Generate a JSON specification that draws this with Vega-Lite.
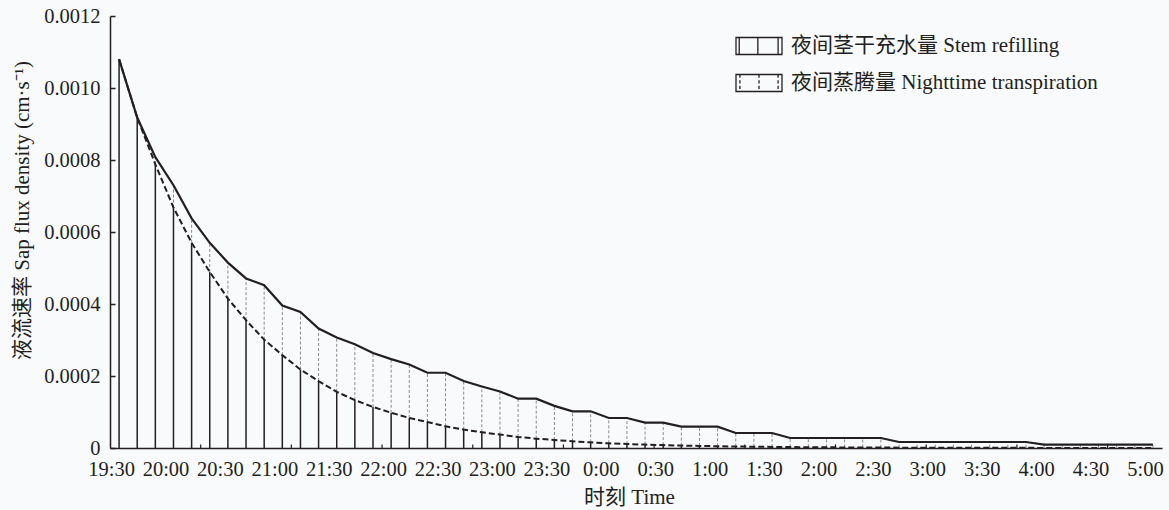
{
  "$schema": "https://vega.github.io/schema/vega-lite/v6.json",
  "width": 1052,
  "height": 432,
  "autosize": {"type": "none"},
  "padding": {"left": 110, "top": 16, "right": 7, "bottom": 62},
  "background": "#f9fafc",
  "config": {
    "view": {"stroke": null},
    "axis": {"labelFont": "Liberation Serif, Noto Sans CJK SC", "titleFont": "Liberation Serif, Noto Sans CJK SC", "labelColor": "#231f20", "titleColor": "#231f20", "titleFontWeight": "normal", "grid": false}
  },
  "data": {
    "values": [
      {"time": "19:30", "m": 0, "upper": 0.00108, "lower": 0.00108},
      {"time": "19:40", "m": 10, "upper": 0.000918, "lower": 0.000918},
      {"time": "19:50", "m": 20, "upper": 0.000808, "lower": 0.000788},
      {"time": "20:00", "m": 30, "upper": 0.00073, "lower": 0.000668},
      {"time": "20:10", "m": 40, "upper": 0.000638, "lower": 0.00057},
      {"time": "20:20", "m": 50, "upper": 0.00057, "lower": 0.000489},
      {"time": "20:30", "m": 60, "upper": 0.000515, "lower": 0.000415},
      {"time": "20:40", "m": 70, "upper": 0.000471, "lower": 0.000355},
      {"time": "20:50", "m": 80, "upper": 0.000452, "lower": 0.000301},
      {"time": "21:00", "m": 90, "upper": 0.000396, "lower": 0.000258},
      {"time": "21:10", "m": 100, "upper": 0.000378, "lower": 0.000218},
      {"time": "21:20", "m": 110, "upper": 0.000332, "lower": 0.000186},
      {"time": "21:30", "m": 120, "upper": 0.000307, "lower": 0.000156},
      {"time": "21:40", "m": 130, "upper": 0.000288, "lower": 0.000133},
      {"time": "21:50", "m": 140, "upper": 0.000264, "lower": 0.000114},
      {"time": "22:00", "m": 150, "upper": 0.000247, "lower": 0.000098},
      {"time": "22:10", "m": 160, "upper": 0.000232, "lower": 0.0000834},
      {"time": "22:20", "m": 170, "upper": 0.000209, "lower": 0.0000723},
      {"time": "22:30", "m": 180, "upper": 0.000209, "lower": 0.0000603},
      {"time": "22:40", "m": 190, "upper": 0.000186, "lower": 0.0000511},
      {"time": "22:50", "m": 200, "upper": 0.000171, "lower": 0.0000436},
      {"time": "23:00", "m": 210, "upper": 0.000157, "lower": 0.0000372},
      {"time": "23:10", "m": 220, "upper": 0.000137, "lower": 0.0000306},
      {"time": "23:20", "m": 230, "upper": 0.000137, "lower": 0.000026},
      {"time": "23:30", "m": 240, "upper": 0.000117, "lower": 0.0000222},
      {"time": "23:40", "m": 250, "upper": 0.000102, "lower": 0.0000186},
      {"time": "23:50", "m": 260, "upper": 0.000102, "lower": 0.0000158},
      {"time": "0:00", "m": 270, "upper": 0.0000834, "lower": 0.000013},
      {"time": "0:10", "m": 280, "upper": 0.0000834, "lower": 0.0000111},
      {"time": "0:20", "m": 290, "upper": 0.0000705, "lower": 0.0000094},
      {"time": "0:30", "m": 300, "upper": 0.0000705, "lower": 0.000008},
      {"time": "0:40", "m": 310, "upper": 0.0000594, "lower": 0.0000068},
      {"time": "0:50", "m": 320, "upper": 0.0000594, "lower": 0.0000058},
      {"time": "1:00", "m": 330, "upper": 0.0000594, "lower": 0.0000049},
      {"time": "1:10", "m": 340, "upper": 0.0000417, "lower": 0.0000042},
      {"time": "1:20", "m": 350, "upper": 0.0000417, "lower": 0.0000036},
      {"time": "1:30", "m": 360, "upper": 0.0000417, "lower": 0.000003},
      {"time": "1:40", "m": 370, "upper": 0.0000278, "lower": 0.0000026},
      {"time": "1:50", "m": 380, "upper": 0.0000278, "lower": 0.0000022},
      {"time": "2:00", "m": 390, "upper": 0.0000278, "lower": 0.0000019},
      {"time": "2:10", "m": 400, "upper": 0.0000278, "lower": 0.0000016},
      {"time": "2:20", "m": 410, "upper": 0.0000278, "lower": 0.0000014},
      {"time": "2:30", "m": 420, "upper": 0.0000278, "lower": 0.0000012},
      {"time": "2:40", "m": 430, "upper": 0.0000167, "lower": 0.000001},
      {"time": "2:50", "m": 440, "upper": 0.0000167, "lower": 0.0000009},
      {"time": "3:00", "m": 450, "upper": 0.0000167, "lower": 0.0000008},
      {"time": "3:10", "m": 460, "upper": 0.0000167, "lower": 0.0000007},
      {"time": "3:20", "m": 470, "upper": 0.0000167, "lower": 0.0000006},
      {"time": "3:30", "m": 480, "upper": 0.0000167, "lower": 0.0000005},
      {"time": "3:40", "m": 490, "upper": 0.0000167, "lower": 0.0000004},
      {"time": "3:50", "m": 500, "upper": 0.0000167, "lower": 0.0000004},
      {"time": "4:00", "m": 510, "upper": 0.0000094, "lower": 0.0000003},
      {"time": "4:10", "m": 520, "upper": 0.0000094, "lower": 0.0000003},
      {"time": "4:20", "m": 530, "upper": 0.0000094, "lower": 0.0000002},
      {"time": "4:30", "m": 540, "upper": 0.0000094, "lower": 0.0000002},
      {"time": "4:40", "m": 550, "upper": 0.0000094, "lower": 0.0000002},
      {"time": "4:50", "m": 560, "upper": 0.0000094, "lower": 0.0000001},
      {"time": "5:00", "m": 570, "upper": 0.0000094, "lower": 0.0000001}
    ]
  },
  "layer": [
    {
      "mark": {"type": "rule", "color": "#231f20", "strokeWidth": 1.5},
      "encoding": {
        "x": {
          "field": "m", "type": "quantitative",
          "scale": {"domain": [-5, 575], "nice": false, "zero": false},
          "axis": {
            "title": "时刻 Time", "titleFontSize": 21, "titlePadding": 7, "titleX": 519,
            "values": [0, 30, 60, 90, 120, 150, 180, 210, 240, 270, 300, 330, 360, 390, 420, 450, 480, 510, 540, 570],
            "labelExpr": "(floor((datum.value + 1170) / 60) % 24) + ':' + ((datum.value % 60) == 0 ? '30' : '00')",
            "ticks": false, "domain": true, "domainColor": "#231f20", "domainWidth": 1.5,
            "labelFontSize": 20.5, "labelPadding": 11, "labelOffset": -8,
            "labelFlush": false, "labelOverlap": false, "labelBound": false
          }
        },
        "y": {
          "field": "lower", "type": "quantitative",
          "scale": {"domain": [0, 0.0012], "nice": false},
          "axis": {
            "title": "液流速率 Sap flux density (cm·s⁻¹)", "titleFontSize": 21, "titlePadding": 11, "titleY": 194,
            "values": [0, 0.0002, 0.0004, 0.0006, 0.0008, 0.001, 0.0012],
            "labelExpr": "datum.value == 0 ? '0' : format(datum.value, '.4f')",
            "labelFontSize": 20.5, "labelPadding": 15,
            "tickSize": -5, "tickColor": "#231f20", "tickWidth": 1.5,
            "domainColor": "#231f20", "domainWidth": 1.5
          }
        },
        "y2": {"datum": 0}
      }
    },
    {
      "mark": {"type": "rule", "color": "#8a8a8a", "strokeWidth": 1, "strokeDash": [3, 2]},
      "encoding": {
        "x": {"field": "m", "type": "quantitative"},
        "y": {"field": "lower", "type": "quantitative"},
        "y2": {"field": "upper"}
      }
    },
    {
      "mark": {"type": "line", "color": "#231f20", "strokeWidth": 2.2},
      "encoding": {
        "x": {"field": "m", "type": "quantitative"},
        "y": {"field": "upper", "type": "quantitative"}
      }
    },
    {
      "mark": {"type": "line", "color": "#231f20", "strokeWidth": 2, "strokeDash": [6, 3]},
      "encoding": {
        "x": {"field": "m", "type": "quantitative"},
        "y": {"field": "lower", "type": "quantitative"}
      }
    },
    {
      "data": {"values": [{"m": 45}, {"m": 95}, {"m": 145}, {"m": 195}, {"m": 245}, {"m": 295}, {"m": 345}, {"m": 395}, {"m": 445}, {"m": 495}, {"m": 545}]},
      "mark": {"type": "rule", "color": "#231f20", "strokeWidth": 1.2},
      "encoding": {
        "x": {"field": "m", "type": "quantitative"},
        "y": {"datum": 0},
        "y2": {"datum": 0.00001}
      }
    },
    {
      "data": {"values": [{"k": "夜间茎干充水量 Stem refilling"}, {"k": "夜间蒸腾量 Nighttime transpiration"}]},
      "mark": {"type": "point", "filled": false, "color": "#231f20", "opacity": 0},
      "encoding": {
        "shape": {
          "field": "k", "type": "nominal",
          "scale": {
            "domain": ["夜间茎干充水量 Stem refilling", "夜间蒸腾量 Nighttime transpiration"],
            "range": [
              "M-1,-0.37L1,-0.37L1,0.37L-1,0.37Z M-0.86,-0.37L-0.86,0.37 M-0.05,-0.37L-0.05,0.37 M0.83,-0.37L0.83,0.37",
              "M-1,-0.37L1,-0.37L1,0.37L-1,0.37Z M-0.83,-0.37L-0.83,-0.23 M-0.83,-0.12L-0.83,0.02 M-0.83,0.12L-0.83,0.26 M0,-0.37L0,-0.23 M0,-0.12L0,0.02 M0,0.12L0,0.26 M0.83,-0.37L0.83,-0.23 M0.83,-0.12L0.83,0.02 M0.83,0.12L0.83,0.26"
            ]
          },
          "legend": {
            "title": null, "orient": "none", "legendX": 625, "legendY": 6,
            "symbolSize": 2116, "symbolOpacity": 1, "symbolStrokeColor": "#231f20", "symbolStrokeWidth": 1.3,
            "symbolFillColor": "transparent",
            "labelFont": "Liberation Serif, Noto Sans CJK SC",
            "labelFontSize": 21, "labelColor": "#231f20", "labelOffset": 8, "rowPadding": 1, "padding": 0,
            "labelLimit": 500
          }
        }
      }
    }
  ]
}
